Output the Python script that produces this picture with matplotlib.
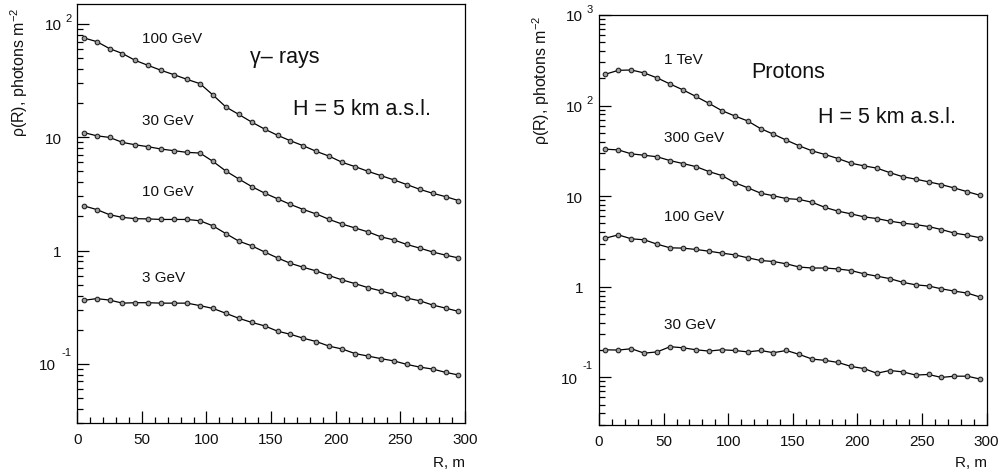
import matplotlib
matplotlib.use('Agg')
import matplotlib.pyplot as plt
from matplotlib.ticker import MultipleLocator, FixedLocator, NullFormatter
from matplotlib.transforms import blended_transform_factory, offset_copy

plt.rcParams['font.family'] = ['Liberation Sans', 'DejaVu Sans']
plt.rcParams['mathtext.fontset'] = 'custom'
plt.rcParams['mathtext.rm'] = 'Liberation Sans'
plt.rcParams['mathtext.it'] = 'Liberation Sans:italic'

# core distance, m
radius = [5, 15, 25, 35, 45, 55, 65, 75, 85, 95,
          105, 115, 125, 135, 145, 155, 165, 175, 185, 195,
          205, 215, 225, 235, 245, 255, 265, 275, 285, 295]

# photon density, photons m^-2 (gamma-ray showers)
gamma_100 = [75.3, 69.9, 60.6, 54.8, 47.6, 43.0, 38.9, 35.6, 32.4, 29.7,
             23.6, 18.5, 15.9, 13.6, 11.8, 10.4, 9.3, 8.4, 7.5, 6.8,
             6.0, 5.5, 5.0, 4.58, 4.2, 3.82, 3.47, 3.2, 2.99, 2.76]
gamma_30 = [11.0, 10.3, 9.96, 9.0, 8.57, 8.24, 7.86, 7.6, 7.35, 7.25,
            6.12, 5.03, 4.28, 3.67, 3.21, 2.86, 2.55, 2.30, 2.10, 1.88,
            1.71, 1.58, 1.46, 1.32, 1.24, 1.13, 1.05, 0.97, 0.91, 0.86]
gamma_10 = [2.48, 2.30, 2.07, 1.96, 1.91, 1.90, 1.88, 1.88, 1.88, 1.83,
            1.65, 1.41, 1.21, 1.10, 0.97, 0.86, 0.77, 0.71, 0.66, 0.60,
            0.55, 0.51, 0.47, 0.44, 0.41, 0.38, 0.36, 0.33, 0.31, 0.29]
gamma_3 = [0.363, 0.376, 0.365, 0.343, 0.346, 0.346, 0.343, 0.343, 0.343, 0.326,
           0.308, 0.279, 0.252, 0.232, 0.216, 0.194, 0.182, 0.168, 0.157, 0.143,
           0.135, 0.123, 0.117, 0.111, 0.106, 0.0988, 0.0935, 0.0898, 0.084, 0.0796]

# photon density, photons m^-2 (proton showers)
proton_1000 = [222, 245, 247, 229, 202, 173, 149, 126, 106, 88,
               76.9, 67.7, 55.7, 48.3, 41.5, 35.9, 31.6, 28.8, 26.0, 23.1,
               21.6, 20.4, 18.2, 16.4, 15.4, 14.4, 13.4, 12.3, 11.2, 10.2]
proton_300 = [33.0, 32.4, 29.3, 28.3, 27.2, 24.7, 22.9, 21.2, 18.7, 16.9,
              14.1, 12.4, 10.8, 10.1, 9.4, 9.2, 8.55, 7.5, 6.83, 6.38,
              5.91, 5.66, 5.30, 5.04, 4.86, 4.62, 4.28, 3.91, 3.71, 3.47]
proton_100 = [3.44, 3.74, 3.38, 3.30, 2.95, 2.69, 2.67, 2.58, 2.47, 2.35,
              2.25, 2.09, 1.95, 1.90, 1.79, 1.65, 1.61, 1.61, 1.57, 1.51,
              1.39, 1.31, 1.23, 1.12, 1.05, 1.02, 0.949, 0.895, 0.851, 0.769]
proton_30 = [0.2015, 0.200, 0.207, 0.185, 0.191, 0.218, 0.212, 0.2015, 0.195, 0.2015,
             0.198, 0.191, 0.198, 0.187, 0.198, 0.179, 0.159, 0.154, 0.146, 0.132,
             0.125, 0.111, 0.119, 0.115, 0.106, 0.1076, 0.0998, 0.103, 0.103, 0.0957]

gamma_series = [gamma_100, gamma_30, gamma_10, gamma_3]
gamma_names = ['100 GeV', '30 GeV', '10 GeV', '3 GeV']
gamma_label_y = [75, 14.1, 3.35, 0.586]

proton_series = [proton_1000, proton_300, proton_100, proton_30]
proton_names = ['1 TeV', '300 GeV', '100 GeV', '30 GeV']
proton_label_y = [330, 44.8, 6.0, 0.39]

ink = '#111111'


def decade_labels(fig, ax, decades):
    """ROOT-like 10^n tick labels drawn next to the y axis."""
    trans = blended_transform_factory(ax.transAxes, ax.transData)
    for d in decades:
        val = 10.0 ** d
        if d in (0, 1):
            txt = '1' if d == 0 else '10'
            ax.text(0, val, txt, fontsize=11, color=ink, ha='right', va='baseline',
                    transform=offset_copy(trans, fig=fig, x=-15.8, y=-5.5, units='dots'))
        else:
            base_dx = -21.5 if d < 0 else -15.8
            sup_dy = 9 if d < 0 else 2.5
            ax.text(0, val, '10', fontsize=11, color=ink, ha='right', va='baseline',
                    transform=offset_copy(trans, fig=fig, x=base_dx, y=-5.5, units='dots'))
            ax.text(0, val, '%d' % d, fontsize=8, color=ink, ha='right', va='baseline',
                    transform=offset_copy(trans, fig=fig, x=-6, y=sup_dy, units='dots'))


def draw_panel(fig, ax, series, names, label_y, ylim, decades, title, title_y, h_y,
               title_x, h_x, ylab_top):
    for vals, name, ly in zip(series, names, label_y):
        ax.plot(radius, vals, '-', color='black', lw=0.9, marker='o', ms=3.3,
                mfc='#a0a0a0', mec='#222222', mew=0.8)
        ax.text(50, ly, name, fontsize=11, color=ink, ha='left', va='center')

    ax.text(title_x, title_y, title, fontsize=15.5, color=ink, ha='left', va='center')
    ax.text(h_x, h_y, 'H = 5 km a.s.l.', fontsize=15.5, color=ink, ha='left', va='center')

    ax.set_yscale('log')
    ax.set_xlim(0, 300)
    ax.set_ylim(*ylim)

    ax.xaxis.set_major_locator(MultipleLocator(50))
    ax.xaxis.set_minor_locator(MultipleLocator(10))
    ax.yaxis.set_major_locator(FixedLocator([10.0 ** d for d in decades]))
    minors = [m * 10.0 ** d for d in range(-2, 3) for m in range(2, 10)]
    ax.yaxis.set_minor_locator(FixedLocator(minors))
    ax.yaxis.set_major_formatter(NullFormatter())
    ax.yaxis.set_minor_formatter(NullFormatter())

    ax.tick_params(axis='both', which='both', direction='in', top=False, right=False,
                   color='black', width=0.9)
    ax.tick_params(axis='both', which='major', length=8.6)
    ax.tick_params(axis='both', which='minor', length=4.3)
    ax.tick_params(axis='x', which='major', labelsize=11, labelcolor=ink, pad=6.5)

    for s in ax.spines.values():
        s.set_color('black')
        s.set_linewidth(0.9)

    decade_labels(fig, ax, decades)

    ax.text(-0.149, ylab_top, '\u03c1(R), photons m$^{-2}$', fontsize=11.5, color=ink,
            rotation=90, ha='center', va='top', transform=ax.transAxes)
    ax.text(1.0, -0.092, 'R, m', fontsize=11, color=ink, ha='right', va='center',
            transform=ax.transAxes)


fig = plt.figure(figsize=(10.02, 4.77), dpi=100)
ax1 = fig.add_axes([0.0771, 0.1111, 0.3869, 0.8784])
ax2 = fig.add_axes([0.5978, 0.1075, 0.3869, 0.8590])

draw_panel(fig, ax1, gamma_series, gamma_names, gamma_label_y, (0.03, 150), [-1, 0, 1, 2],
           '\u03b3\u2013 rays', 51.6, 17.8, 133.6, 166.7, 0.993)
draw_panel(fig, ax2, proton_series, proton_names, proton_label_y, (0.03, 1000),
           [-1, 0, 1, 2, 3], 'Protons', 238, 75, 118.2, 169.7, 1.0)

fig.savefig('out.png', dpi=100)
